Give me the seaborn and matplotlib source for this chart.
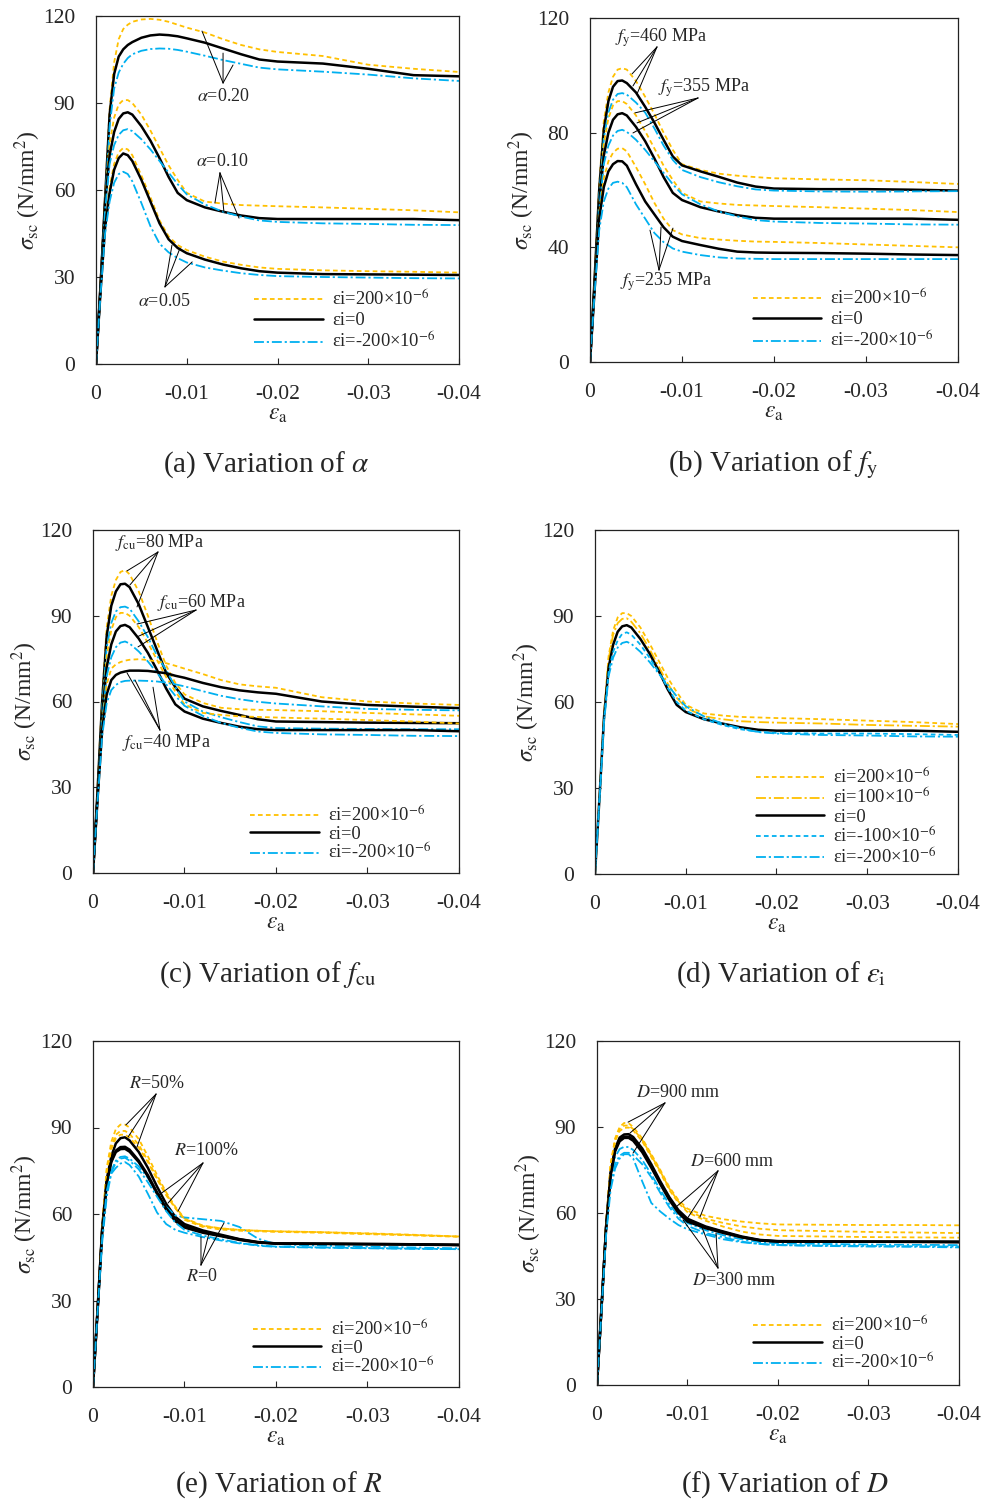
import matplotlib
matplotlib.use('Agg')
import matplotlib.pyplot as plt
from matplotlib.ticker import FuncFormatter
import seaborn as sns

# axial strain grid shared by every curve
strain = [0, -0.0005, -0.001, -0.0015, -0.002, -0.0025, -0.003, -0.0035, -0.004, -0.005, -0.006, -0.007,
          -0.008, -0.009, -0.010, -0.012, -0.014, -0.016, -0.018, -0.020, -0.025, -0.030, -0.035, -0.040]

# (a) alpha
a20_pos = [0, 28, 58, 88, 104, 112, 115.5, 117, 118, 118.8, 119, 118.7, 118, 117, 116, 114.3, 112, 110, 108.5, 107.6, 106.2, 103.2, 101.8, 100.7]
a20_zero = [0, 27, 57, 86, 100, 106, 108.5, 110, 111, 112.5, 113.3, 113.6, 113.4, 113, 112.3, 110.8, 108.8, 106.8, 105, 104.3, 103.6, 101.8, 99.6, 99.2]
a20_neg = [0, 26, 55, 82, 95, 100.5, 103.5, 105.5, 106.8, 108, 108.6, 108.8, 108.7, 108.3, 107.7, 106.3, 104.8, 103.5, 102.2, 101.6, 100.8, 99.8, 98.5, 97.6]
a10_pos = [0, 27, 56, 76, 85, 89.5, 91, 91, 90, 86, 80.5, 74.5, 68.5, 63.5, 59, 56, 55.3, 54.8, 54.6, 54.4, 54, 53.5, 53, 52.3]
a10_zero = [0, 27, 55, 72, 80, 84.5, 86.4, 86.8, 86, 82, 77, 71, 64.5, 59, 56.5, 54, 52.5, 51.2, 50.3, 50, 50, 50, 50, 49.6]
a10_neg = [0, 26, 53, 69, 75.5, 79, 80.6, 81, 80.3, 77.5, 74, 70, 66, 62, 58.5, 55, 52.5, 50.8, 49.5, 49, 48.5, 48.3, 48, 47.9]
a05_pos = [0, 25, 48, 61, 69, 73, 74.5, 74, 72, 65, 57.5, 49.5, 44, 41, 39.3, 37, 35.3, 34.2, 33.3, 32.8, 32.3, 32, 31.8, 31.5]
a05_zero = [0, 25, 47, 59, 67, 71, 72.6, 72, 70, 63.5, 56, 48.5, 43, 40, 38.2, 36, 34.3, 33, 32, 31.5, 31, 30.9, 30.8, 30.7]
a05_neg = [0, 24, 45, 56, 62.5, 65.5, 66.3, 65.5, 63, 55.5, 47.5, 41.5, 38.5, 36.5, 35, 33.3, 32.2, 31.3, 30.7, 30.3, 30, 29.8, 29.6, 29.5]

# (b) fy
fy460_pos = [0, 30, 62, 84, 94, 99.5, 102, 102.5, 102, 98, 92.5, 86.5, 80, 74, 69, 67, 65.7, 65, 64.5, 64.1, 63.7, 63.4, 62.8, 62.1]
fy460_zero = [0, 29, 60, 81, 91, 96, 98, 98.2, 97.3, 94, 89, 83.5, 77.5, 71.7, 68.6, 66.5, 64.6, 62.6, 61.2, 60.5, 60.3, 60.3, 60.1, 59.8]
fy460_neg = [0, 28, 58, 78, 87, 91.5, 93.5, 93.8, 93.3, 90.5, 87, 81.5, 75.5, 70.5, 67, 64.5, 62.7, 61.3, 60.2, 59.8, 59.5, 59.4, 59.5, 59.6]
fy355_pos = [0, 27, 56, 76, 85, 89.5, 91, 91, 90, 86, 80.5, 74.5, 68.5, 63.5, 59, 56, 55.3, 54.8, 54.6, 54.4, 54, 53.5, 53, 52.3]
fy355_zero = [0, 27, 55, 72, 80, 84.5, 86.4, 86.8, 86, 82, 77, 71, 64.5, 59, 56.5, 54, 52.5, 51.2, 50.3, 50, 50, 50, 50, 49.6]
fy355_neg = [0, 26, 53, 69, 75.5, 79, 80.6, 81, 80.3, 77.5, 74, 70, 66, 62, 58.5, 55, 52.5, 50.8, 49.5, 49, 48.5, 48.3, 48, 47.9]
fy235_pos = [0, 26, 52, 64, 70, 73, 74.4, 74.6, 73.5, 68, 62, 55.5, 50, 46, 44.5, 43.2, 42.7, 42.3, 42, 41.9, 41.5, 41, 40.5, 40]
fy235_zero = [0, 25, 50, 61, 66.5, 69, 70.1, 70, 68.5, 62, 56, 51.5, 47, 43.7, 42.2, 40.8, 39.5, 38.5, 38.2, 38.1, 38, 37.8, 37.5, 37.3]
fy235_neg = [0, 24, 46, 56, 60.5, 62.5, 62.9, 62.5, 61, 55, 50, 45, 41.8, 39.6, 38.5, 37.3, 36.5, 36.1, 36, 35.9, 35.9, 35.9, 35.9, 35.9]

# (c) fcu
fcu80_pos = [0, 30, 62, 86, 97, 102.5, 105.3, 106, 104.5, 98.5, 90, 81, 72.5, 66.5, 62.5, 59.5, 57.8, 57.3, 57.1, 57, 56.6, 56, 55.5, 55]
fcu80_zero = [0, 29, 60, 83, 93.5, 98.5, 101, 101.2, 100, 94, 86, 78, 70, 65, 61, 58.3, 56.7, 55.3, 53.8, 53, 52.8, 52.6, 52.5, 52.4]
fcu80_neg = [0, 28, 58, 79, 87.5, 91.5, 93, 93.2, 92.5, 88, 82.5, 76, 71, 65, 60, 56.5, 54.5, 52.8, 51.3, 50.7, 50.5, 50.4, 50.3, 50.3]
fcu60_pos = [0, 27, 56, 76, 85, 89.5, 91, 91, 90, 86, 80.5, 74.5, 68.5, 63.5, 59, 56, 55.3, 54.8, 54.6, 54.4, 54, 53.5, 53, 52.3]
fcu60_zero = [0, 27, 55, 72, 80, 84.5, 86.4, 86.8, 86, 82, 77, 71, 64.5, 59, 56.5, 54, 52.5, 51.2, 50.3, 50, 50, 50, 50, 49.6]
fcu60_neg = [0, 26, 53, 69, 75.5, 79, 80.6, 81, 80.3, 77.5, 74, 70, 66, 62, 58.5, 55, 52.5, 50.8, 49.5, 49, 48.5, 48.3, 48, 47.9]
fcu40_pos = [0, 27, 52, 66, 71.5, 73, 73.8, 74.3, 74.6, 74.8, 74.5, 74, 73.4, 72.5, 71.5, 69.6, 67.5, 66, 65.3, 64.8, 61.5, 60, 59.3, 58.8]
fcu40_zero = [0, 26, 50, 62.5, 67.5, 69.3, 70.1, 70.5, 70.8, 70.8, 70.7, 70.3, 69.9, 69, 68.3, 66.5, 65, 63.9, 63.2, 62.7, 60, 58.8, 58.2, 57.7]
fcu40_neg = [0, 25, 48, 59.5, 64, 65.8, 66.8, 67.2, 67.3, 67.3, 67.2, 67, 66.6, 66, 65.3, 63.6, 62, 60.8, 59.9, 59.3, 58.3, 57.4, 57.1, 56.9]

# (d) initial strain
ei_p200 = [0, 27, 56, 76, 85, 89.5, 91, 91, 90, 86, 80.5, 74.5, 68.5, 63.5, 59, 56, 55.3, 54.8, 54.6, 54.4, 54, 53.5, 53, 52.3]
ei_p100 = [0, 27, 56, 75, 83.5, 87.5, 89, 89.2, 88, 84, 78.5, 72.5, 66.5, 61.5, 58, 55, 54, 53.3, 53, 52.8, 52.5, 52, 51.7, 51.4]
ei_0 = [0, 27, 55, 72, 80, 84.5, 86.4, 86.8, 86, 82, 77, 71, 64.5, 59, 56.5, 54, 52.5, 51.2, 50.3, 50, 50, 50, 50, 49.6]
ei_n100 = [0, 26.5, 54, 70.5, 77.5, 81.5, 83.8, 84.3, 83.5, 80, 75.5, 70.5, 65, 60, 57, 54, 52, 50.5, 49.6, 49.2, 49, 49, 48.8, 48.5]
ei_n200 = [0, 26, 53, 69, 75.5, 79, 80.6, 81, 80.3, 77.5, 74, 70, 66, 62, 58.5, 55, 52.5, 50.8, 49.5, 49, 48.5, 48.3, 48, 47.9]

# (e) R
r50_pos = [0, 27, 56, 76, 85, 89.5, 91, 91, 90, 86, 80, 73.5, 67.5, 62.5, 58.5, 56, 55, 54.5, 54.2, 54, 53.7, 53.3, 52.8, 52.2]
r50_zero = [0, 27, 55, 72, 80, 84.5, 86.3, 86.6, 85.5, 81.5, 76, 69.5, 63.5, 59, 56.5, 54.3, 52.8, 51.3, 50.3, 49.8, 49.7, 49.6, 49.5, 49.3]
r50_neg = [0, 26, 52, 68.5, 75, 78.5, 79.8, 80, 79.2, 76.5, 72.5, 67.5, 62.5, 59.5, 58.8, 58.2, 57.6, 55.5, 51.5, 49.5, 49, 48.7, 48.4, 48.1]
r100_pos = [0, 27, 55, 74, 82.5, 86.3, 87.5, 87.5, 86.5, 83, 78, 72, 66.5, 62, 58, 55.5, 54.6, 54.2, 54, 53.8, 53.5, 53, 52.6, 52.1]
r100_zero = [0, 26.5, 54, 71, 78.5, 82, 83.2, 83.3, 82.3, 78.5, 73.5, 67.5, 62, 58, 55.8, 53.8, 52.5, 51.2, 50.2, 49.8, 49.7, 49.6, 49.5, 49.3]
r100_neg = [0, 25, 50, 66, 74, 76, 77.5, 78, 77, 73, 67, 60.5, 56.5, 54.5, 53.5, 52, 50.8, 49.8, 49.2, 48.7, 48.4, 48.2, 48, 47.8]
r0_pos = [0, 27, 55.5, 75, 83.5, 87.5, 88.8, 88.8, 87.8, 84, 78.5, 72.5, 67, 62, 58.3, 55.8, 55, 54.5, 54.2, 54, 53.7, 53.2, 52.7, 52.2]
r0_zero = [0, 26.5, 54, 70.5, 78, 81.5, 82.5, 82.6, 81.6, 78, 73, 67, 61.5, 57.5, 55.3, 53.5, 52.3, 51, 50.1, 49.7, 49.6, 49.5, 49.4, 49.2]
r0_neg = [0, 26, 51.5, 68, 74.5, 77.8, 79.2, 79.5, 78.5, 75.5, 71, 66, 61, 57, 54.5, 52.5, 51.2, 50, 49, 48.6, 48.3, 48.1, 47.9, 47.8]

# (f) D
d900_pos = [0, 27.5, 56.5, 77, 86, 90, 91.4, 91.3, 90, 86, 80.5, 75, 69, 64.5, 61.5, 59, 57.8, 57, 56.4, 56, 55.9, 55.8, 55.8, 55.7]
d900_zero = [0, 27, 55, 74, 82.5, 86.3, 87.4, 87.5, 86.5, 82.5, 77, 71, 65.5, 61, 58, 55.3, 53.5, 51.8, 50.6, 50.2, 50.1, 50, 50, 50]
d900_neg = [0, 26.5, 54, 72, 79.5, 82.3, 83.1, 83, 82, 78.5, 73.5, 68, 63, 59, 56.5, 54, 52.2, 50.8, 49.8, 49.4, 49.2, 49, 48.9, 48.8]
d600_pos = [0, 27.5, 56, 76.5, 85.5, 89.3, 90.5, 90.5, 89.3, 85.5, 80, 74.5, 68.5, 64, 60.8, 58, 56.5, 55.3, 54.5, 54, 53.7, 53.4, 53.2, 53]
d600_zero = [0, 27, 55, 73.5, 82, 85.5, 86.6, 86.6, 85.6, 81.8, 76.3, 70.5, 65, 60.5, 57.5, 55, 53.3, 51.6, 50.5, 50.1, 50, 50, 50, 49.9]
d600_neg = [0, 26, 53, 70, 77, 80, 81, 81, 80.2, 77, 72.5, 67, 62, 58, 55.5, 53, 51.5, 50, 49.2, 48.8, 48.6, 48.5, 48.4, 48.3]
d300_pos = [0, 27, 55.5, 76, 85, 88.6, 89.7, 89.8, 88.8, 85, 79.5, 74, 68, 63.5, 60.3, 57.3, 55.2, 53.5, 52.5, 52, 51.8, 51.6, 51.5, 51.4]
d300_zero = [0, 27, 54.5, 73, 81.5, 85, 86.2, 86.2, 85.2, 81.2, 75.8, 70, 64.5, 60, 57, 54.7, 53, 51.5, 50.4, 50, 50, 50, 49.9, 49.8]
d300_neg = [0, 26, 52, 68, 75.5, 79, 80.5, 80.5, 79, 71, 63.5, 60.5, 58, 55.8, 54.3, 52.5, 50.8, 49.8, 49.2, 48.8, 48.5, 48.3, 48.2, 48]

lbl_pos = r'εi=200×10$^{-6}$'
lbl_p100 = r'εi=100×10$^{-6}$'
lbl_zero = 'εi=0'
lbl_n100 = r'εi=-100×10$^{-6}$'
lbl_neg = r'εi=-200×10$^{-6}$'

sns.set_style('ticks')
plt.rcParams['font.family'] = ['Liberation Serif', 'DejaVu Serif']
plt.rcParams['mathtext.fontset'] = 'stix'
plt.rcParams['axes.unicode_minus'] = False

ORANGE = '#FFC000'
BLUE = '#00B0F0'
DASH = (0, (2.6, 1.8))
DASHDOT = (0, (5.5, 1.6, 1.2, 1.6))
st_pos = dict(color=ORANGE, linestyle=DASH, linewidth=1.3)
st_p100 = dict(color=ORANGE, linestyle=DASHDOT, linewidth=1.3)
st_zero = dict(color='black', linestyle='-', linewidth=1.8)
st_n100 = dict(color=BLUE, linestyle=DASH, linewidth=1.3)
st_neg = dict(color=BLUE, linestyle=DASHDOT, linewidth=1.3)


def curve(ax, y, style, label=None):
    sns.lineplot(x=strain, y=y, ax=ax, sort=False, estimator=None, label=label, **style)


def triple(ax, pos, zero, neg, with_label=False):
    curve(ax, pos, st_pos, lbl_pos if with_label else None)
    curve(ax, zero, st_zero, lbl_zero if with_label else None)
    curve(ax, neg, st_neg, lbl_neg if with_label else None)


def pointer(ax, text, txy, conv, ends):
    for e in ends:
        ax.annotate('', xy=e, xytext=conv,
                    arrowprops=dict(arrowstyle='-', color='black', lw=0.7, shrinkA=0, shrinkB=0))
    ax.text(txy[0], txy[1], text, ha='center', va='center', fontsize=13)


def style_axes(ax, yticks, leg_anchor, spacing):
    ax.set_xlim(0, -0.04)
    ax.set_ylim(0, 120)
    ax.set_xticks([0, -0.01, -0.02, -0.03, -0.04])
    ax.set_yticks(yticks)
    ax.xaxis.set_major_formatter(FuncFormatter(lambda v, p: '0' if abs(v) < 1e-12 else f'{v:.2f}'))
    ax.tick_params(direction='in', length=4, width=0.8, labelsize=15.5, top=False, right=False)
    ax.tick_params(axis='x', pad=15)
    ax.tick_params(axis='y', pad=15)
    for s in ax.spines.values():
        s.set_linewidth(0.9)
        s.set_color('#222222')
    ax.set_xlabel(r'$\varepsilon_{\rm a}$', fontsize=17, labelpad=0)
    ax.set_ylabel(r'$\sigma_{\rm sc}$ (N/mm$^2$)', fontsize=17, labelpad=0)
    ax.legend(loc='lower right', bbox_to_anchor=leg_anchor, frameon=False, fontsize=13.3,
              handlelength=3.7, handletextpad=0.5, labelspacing=spacing, borderaxespad=0)


fig = plt.figure(figsize=(9.87, 15.04), dpi=100)
W, H = 987, 1504


def make_axes(left, right, top, bottom):
    return fig.add_axes([left / W, 1 - bottom / H, (right - left) / W, (bottom - top) / H])


# (a)
ax = make_axes(96, 459, 16, 364)
triple(ax, a20_pos, a20_zero, a20_neg, with_label=True)
triple(ax, a10_pos, a10_zero, a10_neg)
triple(ax, a05_pos, a05_zero, a05_neg)
pointer(ax, r'$\alpha$=0.20', (-0.0140, 92.1), (-0.0140, 96.9), [(-0.01168, 114.8), (-0.0140, 107.2), (-0.0151, 103.1)])
pointer(ax, r'$\alpha$=0.10', (-0.0139, 69.7), (-0.01366, 65.9), [(-0.0131, 55.5), (-0.0141, 52.4), (-0.01576, 50.3)])
pointer(ax, r'$\alpha$=0.05', (-0.0075, 21.4), (-0.0076, 26.6), [(-0.00837, 41), (-0.00926, 40), (-0.0106, 35.2)])
style_axes(ax, [0, 30, 60, 90, 120], (0.955, 0.013), 0.15)

# (b)
ax = make_axes(590, 958, 18, 362)
triple(ax, fy460_pos, fy460_zero, fy460_neg, with_label=True)
triple(ax, fy355_pos, fy355_zero, fy355_neg)
triple(ax, fy235_pos, fy235_zero, fy235_neg)
pointer(ax, r'$f_{\rm y}$=460 MPa', (-0.00772, 113.0), (-0.00728, 109.9), [(-0.00457, 100.5), (-0.00467, 96.3), (-0.00511, 93.5)])
pointer(ax, r'$f_{\rm y}$=355 MPa', (-0.0124, 95.6), (-0.01174, 92.1), [(-0.00489, 86.9), (-0.00511, 83.4), (-0.00467, 79.9)])
pointer(ax, r'$f_{\rm y}$=235 MPa', (-0.00826, 27.9), (-0.0075, 32.1), [(-0.00652, 46), (-0.00772, 47.1), (-0.00902, 46.7)])
style_axes(ax, [0, 40, 80, 120], (0.954, 0.01), 0.15)

# (c)
ax = make_axes(93, 459, 530, 873)
triple(ax, fcu80_pos, fcu80_zero, fcu80_neg, with_label=True)
triple(ax, fcu60_pos, fcu60_zero, fcu60_neg)
triple(ax, fcu40_pos, fcu40_zero, fcu40_neg)
pointer(ax, r'$f_{\rm cu}$=80 MPa', (-0.00721, 115.5), (-0.0071, 112.3), [(-0.00372, 105.7), (-0.00404, 100.8), (-0.00481, 93.1)])
pointer(ax, r'$f_{\rm cu}$=60 MPa', (-0.0118, 94.8), (-0.01126, 92), [(-0.00481, 87.1), (-0.00481, 82.6), (-0.00492, 79.1)])
pointer(ax, r'$f_{\rm cu}$=40 MPa', (-0.00798, 45.5), (-0.00732, 50), [(-0.00372, 70), (-0.00459, 67.5), (-0.00656, 65)])
style_axes(ax, [0, 30, 60, 90, 120], (0.944, 0.007), 0.02)

# (d)
ax = make_axes(595, 958, 530, 874)
curve(ax, ei_p200, st_pos, lbl_pos)
curve(ax, ei_p100, st_p100, lbl_p100)
curve(ax, ei_0, st_zero, lbl_zero)
curve(ax, ei_n100, st_n100, lbl_n100)
curve(ax, ei_n200, st_neg, lbl_neg)
style_axes(ax, [0, 30, 60, 90, 120], (0.962, -0.002), 0.04)

# (e)
ax = make_axes(93, 459, 1041, 1387)
triple(ax, r50_pos, r50_zero, r50_neg, with_label=True)
triple(ax, r100_pos, r100_zero, r100_neg)
triple(ax, r0_pos, r0_zero, r0_neg)
pointer(ax, r'$R$=50%', (-0.007, 105.4), (-0.00689, 101.6), [(-0.0036, 90.9), (-0.00383, 86.7), (-0.0048, 83.2)])
pointer(ax, r'$R$=100%', (-0.01235, 81.9), (-0.01202, 77.7), [(-0.00721, 66.6), (-0.0082, 63.8), (-0.00929, 61)])
pointer(ax, r'$R$=0', (-0.01191, 38.2), (-0.0118, 42.3), [(-0.0118, 52), (-0.01268, 53.4), (-0.01432, 56.9)])
style_axes(ax, [0, 30, 60, 90, 120], (0.952, 0.007), 0.02)

# (f)
ax = make_axes(597, 959, 1041, 1385)
triple(ax, d900_pos, d900_zero, d900_neg, with_label=True)
triple(ax, d600_pos, d600_zero, d600_neg)
triple(ax, d300_pos, d300_zero, d300_neg)
pointer(ax, r'$D$=900 mm', (-0.00895, 101.9), (-0.00751, 98.4), [(-0.00343, 91.7), (-0.00365, 87.9), (-0.00398, 80.9)])
pointer(ax, r'$D$=600 mm', (-0.01492, 78.1), (-0.01337, 74.7), [(-0.00873, 62.1), (-0.00994, 57.9), (-0.01138, 58.6)])
pointer(ax, r'$D$=300 mm', (-0.01514, 36.6), (-0.01337, 40.8), [(-0.0095, 57.6), (-0.0116, 55), (-0.01315, 53)])
style_axes(ax, [0, 30, 60, 90, 120], (0.952, 0.013), 0.02)

captions = [('(a) Variation of $\\alpha$', 266, 465), ('(b) Variation of $f_{\\rm y}$', 773, 465),
            ('(c) Variation of $f_{\\rm cu}$', 268, 975), ('(d) Variation of $\\varepsilon_{\\rm i}$', 781, 975),
            ('(e) Variation of $R$', 279, 1485), ('(f) Variation of $D$', 785, 1485)]
for txt, cx, cy in captions:
    fig.text(cx / W, 1 - cy / H, txt, ha='center', va='center', fontsize=21)

fig.savefig('out.png', dpi=100)
